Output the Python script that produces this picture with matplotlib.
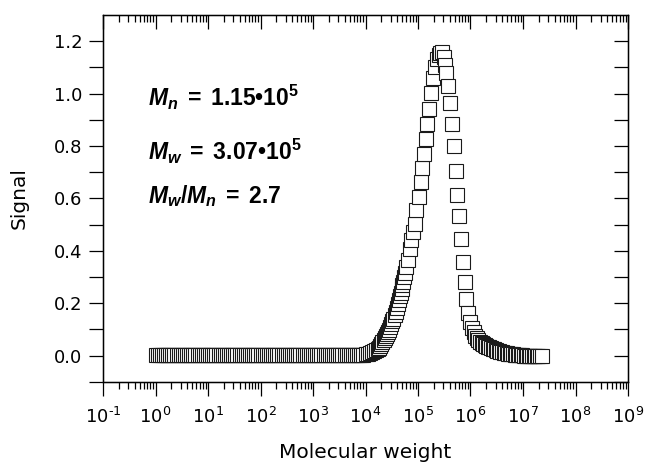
import matplotlib
matplotlib.use("Agg")
import matplotlib.pyplot as plt
from matplotlib.ticker import LogLocator, NullFormatter, FixedLocator, FixedFormatter
import numpy as np

plt.rcParams['font.family'] = ['DejaVu Sans']
plt.rcParams['axes.unicode_minus'] = False
plt.rcParams['mathtext.fontset'] = 'custom'
plt.rcParams['mathtext.rm'] = 'Liberation Sans:bold'
plt.rcParams['mathtext.it'] = 'Liberation Sans:bold:italic'
plt.rcParams['mathtext.bf'] = 'Liberation Sans:bold'

# ---- data: log10(molecular weight) and detector signal ----
plateau_logM = [
    0.00, 0.04, 0.08, 0.12, 0.16, 0.20, 0.24, 0.28, 0.32, 0.36,
    0.40, 0.44, 0.48, 0.52, 0.56, 0.60, 0.64, 0.68, 0.72, 0.76,
    0.80, 0.84, 0.88, 0.92, 0.96, 1.00, 1.04, 1.08, 1.12, 1.16,
    1.20, 1.24, 1.28, 1.32, 1.36, 1.40, 1.44, 1.48, 1.52, 1.56,
    1.60, 1.64, 1.68, 1.72, 1.76, 1.80, 1.84, 1.88, 1.92, 1.96,
    2.00, 2.04, 2.08, 2.12, 2.16, 2.20, 2.24, 2.28, 2.32, 2.36,
    2.40, 2.44, 2.48, 2.52, 2.56, 2.60, 2.64, 2.68, 2.72, 2.76,
    2.80, 2.84, 2.88, 2.92, 2.96, 3.00, 3.04, 3.08, 3.12, 3.16,
    3.20, 3.24, 3.28, 3.32, 3.36, 3.40, 3.44, 3.48, 3.52, 3.56,
    3.60, 3.64, 3.68, 3.72, 3.76, 3.80, 3.84, 3.88, 3.92, 3.96,
]
plateau_signal = [0.003] * len(plateau_logM)

peak_logM = [
    4.00, 4.04, 4.09, 4.13, 4.17, 4.20, 4.23, 4.26, 4.28, 4.30,
    4.32, 4.35, 4.37, 4.39, 4.41, 4.43, 4.44, 4.47, 4.49, 4.51,
    4.53, 4.56, 4.58, 4.60, 4.62, 4.64, 4.66, 4.68, 4.69, 4.70,
    4.72, 4.74, 4.76, 4.78, 4.81, 4.84, 4.87, 4.90, 4.935, 4.97,
    5.01, 5.05, 5.085, 5.115, 5.145, 5.176, 5.214, 5.252, 5.29, 5.328,
    5.36, 5.392, 5.424, 5.456, 5.49, 5.51, 5.54, 5.57, 5.605, 5.645,
    5.68, 5.718, 5.748, 5.786, 5.819, 5.857, 5.889, 5.92, 5.958, 5.996,
    6.029, 6.06, 6.09,
]
peak_signal = [
    0.004, 0.006, 0.010, 0.013, 0.017, 0.021, 0.024, 0.030, 0.036, 0.043,
    0.050, 0.058, 0.065, 0.073, 0.081, 0.090, 0.099, 0.110, 0.120, 0.130,
    0.141, 0.153, 0.166, 0.182, 0.198, 0.212, 0.226, 0.240, 0.255, 0.268,
    0.281, 0.298, 0.315, 0.338, 0.363, 0.408, 0.442, 0.471, 0.503, 0.554,
    0.605, 0.661, 0.714, 0.770, 0.826, 0.884, 0.940, 1.003, 1.059, 1.102,
    1.131, 1.148, 1.154, 1.157, 1.138, 1.110, 1.077, 1.028, 0.965, 0.885,
    0.800, 0.703, 0.614, 0.531, 0.443, 0.358, 0.281, 0.217, 0.164, 0.128,
    0.105, 0.089, 0.075,
]

tail_logM = [
    6.12, 6.15, 6.18, 6.21, 6.24, 6.27, 6.30, 6.33, 6.36, 6.39,
    6.42, 6.45, 6.48, 6.51, 6.54, 6.57, 6.60, 6.63, 6.66, 6.69,
    6.72, 6.75, 6.78, 6.81, 6.84, 6.87, 6.90, 6.93, 6.96, 6.99,
    7.02, 7.05, 7.08, 7.11, 7.14, 7.17, 7.20, 7.23, 7.26, 7.29,
    7.32, 7.37,
]
tail_signal = [
    0.066, 0.059, 0.053, 0.048, 0.044, 0.040, 0.037, 0.034, 0.031, 0.028,
    0.026, 0.024, 0.021, 0.019, 0.017, 0.015, 0.013, 0.011, 0.010, 0.008,
    0.007, 0.006, 0.005, 0.004, 0.003, 0.003, 0.002, 0.002, 0.001, 0.001,
    0.000, 0.000, 0.000, 0.000, 0.000, 0.000, 0.000, 0.000, 0.000, 0.000,
    0.000, 0.000,
]

x_tick_exponents = ['\u20101', '0', '1', '2', '3', '4', '5', '6', '7', '8', '9']
x_tick_values = [1e-1, 1e0, 1e1, 1e2, 1e3, 1e4, 1e5, 1e6, 1e7, 1e8, 1e9]
y_tick_values = [0.0, 0.2, 0.4, 0.6, 0.8, 1.0, 1.2]
y_tick_labels = ['0.0', '0.2', '0.4', '0.6', '0.8', '1.0', '1.2']
y_minor_values = [-0.1, 0.1, 0.3, 0.5, 0.7, 0.9, 1.1]

annotations = [
    r'$M_n\mathrm{\;=\;1.15•10^{5}}$',
    r'$M_w\mathrm{\;=\;3.07•10^{5}}$',
    r'$M_w/M_n\mathrm{\;=\;2.7}$',
]
annotation_y = [0.985, 0.778, 0.61]

logM = np.array(plateau_logM + peak_logM + tail_logM)
signal = np.array(plateau_signal + peak_signal + tail_signal)
mw = 10.0 ** logM

fig = plt.figure(figsize=(6.46, 4.63), dpi=100)
ax = fig.add_axes([103/646, 1 - 381.7/463, (628-103)/646, (381.7-15)/463])

ax.plot(mw, signal, linestyle='none', marker='s', markersize=9.6,
        markerfacecolor='white', markeredgecolor='#1a1a1a', markeredgewidth=0.8)

ax.set_xscale('log')
ax.set_xlim(1e-1, 1e9)
ax.set_ylim(-0.1, 1.3)

ax.xaxis.set_major_locator(FixedLocator(x_tick_values))
ax.xaxis.set_major_formatter(FixedFormatter(
    [r'$\mathdefault{10^{%s}}$' % e for e in x_tick_exponents]))
ax.xaxis.set_minor_locator(LogLocator(base=10, subs=np.arange(2, 10), numticks=20))
ax.xaxis.set_minor_formatter(NullFormatter())
ax.yaxis.set_major_locator(FixedLocator(y_tick_values))
ax.yaxis.set_major_formatter(FixedFormatter(y_tick_labels))
ax.yaxis.set_minor_locator(FixedLocator(y_minor_values))

ax.tick_params(axis='x', which='major', direction='out', length=10, width=0.9,
               labelsize=13, pad=8)
ax.tick_params(axis='x', which='minor', direction='out', length=5, width=0.9)
ax.tick_params(axis='y', which='both', direction='out', length=10, width=0.9,
               labelsize=13, pad=5)

for sp in ax.spines.values():
    sp.set_linewidth(1.0)
    sp.set_color('#222222')

axt = ax.twiny()
axt.set_xscale('log')
axt.set_xlim(ax.get_xlim())
axt.xaxis.set_major_locator(FixedLocator(x_tick_values))
axt.xaxis.set_minor_locator(LogLocator(base=10, subs=np.arange(2, 10), numticks=20))
axt.tick_params(axis='x', which='major', direction='in', length=10, width=0.9,
                labeltop=False)
axt.tick_params(axis='x', which='minor', direction='in', length=5, width=0.9)
axt.xaxis.set_major_formatter(NullFormatter())
axt.xaxis.set_minor_formatter(NullFormatter())

axr = ax.twinx()
axr.set_ylim(ax.get_ylim())
axr.yaxis.set_major_locator(FixedLocator(y_tick_values))
axr.yaxis.set_minor_locator(FixedLocator(y_minor_values))
axr.tick_params(axis='y', which='both', direction='in', length=10, width=0.9,
                labelright=False)

ax.set_xlabel('Molecular weight', fontsize=14.5, labelpad=12)
ax.set_ylabel('Signal', fontsize=14.5, labelpad=18)

for txt, yv in zip(annotations, annotation_y):
    ax.text(0.73, yv, txt, fontsize=16.5, va='center', ha='left')

fig.savefig('out.png', dpi=100)
